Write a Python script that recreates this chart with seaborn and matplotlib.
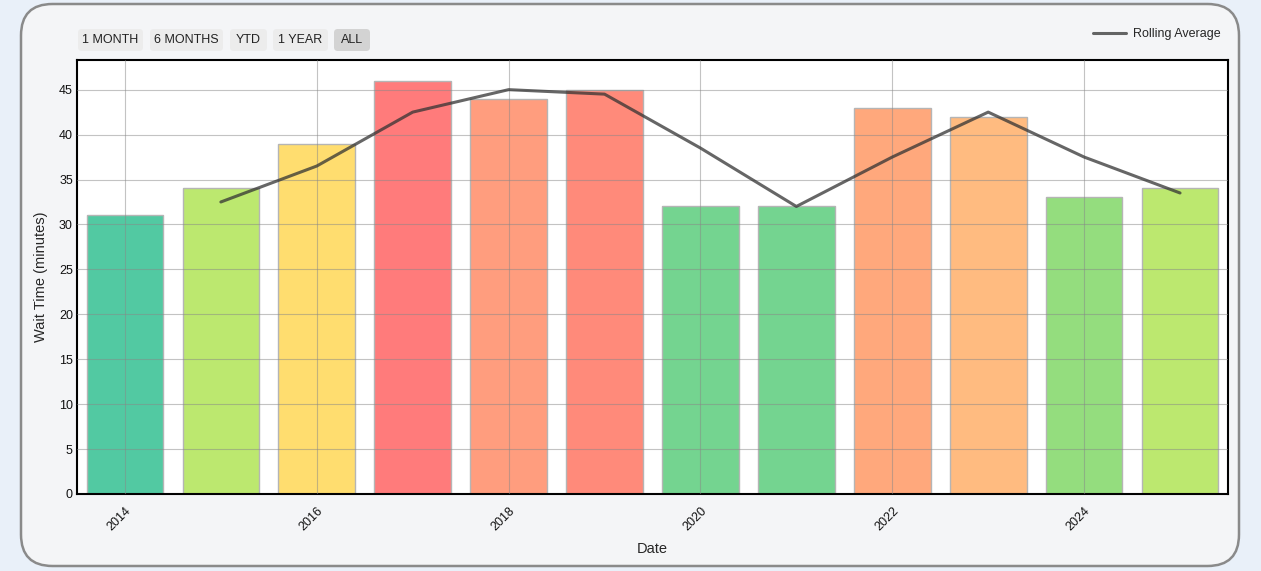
import pandas as pd
import matplotlib.pyplot as plt
import seaborn as sns
from matplotlib.patches import FancyBboxPatch

# Data
years = [2014, 2015, 2016, 2017, 2018, 2019, 2020, 2021, 2022, 2023, 2024, 2025]
wait_times = [31, 34, 39, 46, 44, 45, 32, 32, 43, 42, 33, 34]
rolling_years = [2015, 2016, 2017, 2018, 2019, 2020, 2021, 2022, 2023, 2024, 2025]
rolling_avg = [32.5, 36.5, 42.5, 45, 44.5, 38.5, 32, 37.5, 42.5, 37.5, 33.5]
bar_colors = ['#52c9a2', '#bce86f', '#ffdd6f', '#ff7b7b', '#ff9d7e', '#ff8a7a',
              '#74d490', '#74d490', '#ffa87c', '#ffbb80', '#94dd7e', '#bce86f']
buttons = ['1 MONTH', '6 MONTHS', 'YTD', '1 YEAR', 'ALL']

df = pd.DataFrame({'Date': years, 'Wait': wait_times})
roll = pd.DataFrame({'Date': rolling_years, 'Rolling Average': rolling_avg})

sns.set_style('white')
plt.rcParams['font.family'] = ['Liberation Sans', 'DejaVu Sans']

W, H = 1261, 571
fig = plt.figure(figsize=(W / 100, H / 100), dpi=100)
fig.patch.set_facecolor('#e9f0f9')

# card background
card = FancyBboxPatch((21 / W, 5 / H), 1218 / W, 562 / H,
                      boxstyle='round,pad=0,rounding_size=0.025',
                      transform=fig.transFigure, facecolor='#f4f5f7',
                      edgecolor='#8a8a8a', linewidth=1.8, zorder=-5,
                      mutation_aspect=W / H)
fig.patches.append(card)

ax = fig.add_axes([77 / W, 1 - 494 / H, (1228 - 77) / W, (494 - 60) / H])
ax.set_zorder(2)
ax.set_facecolor('white')

sns.barplot(data=df, x='Date', y='Wait', hue='Date', palette=bar_colors,
            native_scale=True, legend=False, width=0.8, saturation=1, ax=ax,
            edgecolor='#b5b5b5', linewidth=1, zorder=1)
sns.lineplot(data=roll, x='Date', y='Rolling Average', color='#333333',
             alpha=0.75, linewidth=2.2, ax=ax, zorder=4, label='Rolling Average')

ax.set_xlim(2013.5, 2025.5)
ax.set_ylim(0, 48.3)
ax.set_yticks(range(0, 46, 5))
ax.set_xticks(range(2014, 2025, 2))
ax.set_xticklabels([str(y) for y in range(2014, 2025, 2)], rotation=45,
                   ha='right', rotation_mode='anchor')
ax.tick_params(axis='both', labelsize=9, length=0, colors='#111111')
ax.tick_params(axis='y', pad=3)
ax.tick_params(axis='x', pad=8)
ax.grid(True, color='#888888', alpha=0.5, linewidth=0.8, zorder=3)
ax.set_axisbelow(False)
for s in ax.spines.values():
    s.set_color('black')
    s.set_linewidth(1.5)

ax.set_xlabel('Date', fontsize=10.5)
ax.xaxis.set_label_coords(0.5, -(549 - 494) / 434, transform=ax.transAxes)
ax.xaxis.label.set_va('center')
ax.set_ylabel('Wait Time (minutes)', fontsize=10.5)
ax.yaxis.set_label_coords(-(77 - 41) / 1151, 0.5, transform=ax.transAxes)
ax.yaxis.label.set_va('center')

ax.legend(loc='center right', bbox_to_anchor=(1232 / W, 1 - 34 / H),
          bbox_transform=fig.transFigure, frameon=False, fontsize=9,
          handlelength=2.6, handletextpad=0.6)

# range buttons
btn_pos = [(78, 143), (150, 223), (230, 267), (273, 328), (334, 370)]
for label, (x0, x1) in zip(buttons, btn_pos):
    fc = '#d3d3d3' if label == 'ALL' else '#ececec'
    b = FancyBboxPatch((x0 / W, 1 - 51 / H), (x1 - x0) / W, 22 / H,
                       boxstyle='round,pad=0,rounding_size=0.003',
                       transform=fig.transFigure, facecolor=fc,
                       edgecolor='none', mutation_aspect=W / H, zorder=1)
    fig.patches.append(b)
    fig.text((x0 + x1) / 2 / W, 1 - 40 / H, label, ha='center', va='center',
             fontsize=9, color='#222222', zorder=3)

plt.savefig('out.png', dpi=100, facecolor=fig.get_facecolor())
